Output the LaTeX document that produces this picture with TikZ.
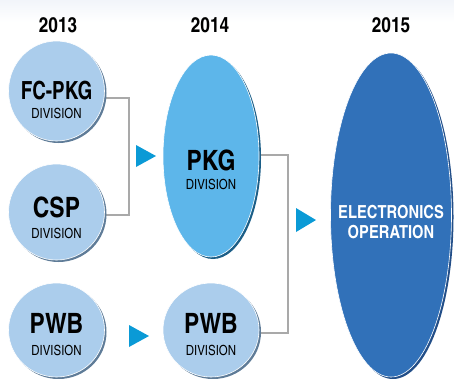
\documentclass[tikz,border=0pt]{standalone}
\usepackage{fontspec}
\IfFontExistsTF{texgyreheroscn-bold.otf}{%
  \newfontfamily\cnfont{texgyreheroscn}[Extension=.otf,UprightFont=*-regular,BoldFont=*-bold]%
  \newfontfamily\cnnarrow{texgyreheroscn}[Extension=.otf,UprightFont=*-regular,BoldFont=*-bold,FakeStretch=0.92]%
}{%
  \newfontfamily\cnfont{TeX Gyre Heros}[FakeStretch=0.82]%
  \newfontfamily\cnnarrow{TeX Gyre Heros}[FakeStretch=0.75]%
}
\usetikzlibrary{shapes.geometric,shadows,backgrounds}
\definecolor{lightc}{HTML}{ABCDEC}
\definecolor{lightsh}{HTML}{5F7C98}
\definecolor{midc}{HTML}{5DB6EA}
\definecolor{midsh}{HTML}{1B5E87}
\definecolor{darkc}{HTML}{3171B9}
\definecolor{darksh}{HTML}{224E88}
\definecolor{tric}{HTML}{0A9AD6}
\definecolor{connc}{HTML}{A9A9A9}
\definecolor{topbg}{HTML}{F2F5FA}
\tikzset{
  blob/.style={ellipse, inner sep=0pt, draw=white, line width=0.6pt,
    drop shadow={shadow xshift=2pt, shadow yshift=-2pt, opacity=1, fill=#1}},
  lightblob/.style={blob=lightsh, fill=lightc, minimum width=96pt},
  bigtxt/.style={anchor=base, inner sep=0pt, font=\cnfont\bfseries\fontsize{28}{30}\selectfont},
  fctxt/.style={anchor=base, inner sep=0pt, font=\cnnarrow\bfseries\fontsize{25}{30}\selectfont},
  smalltxt/.style={anchor=base, inner sep=0pt, font=\cnfont\fontsize{14}{16}\selectfont},
  yeartxt/.style={anchor=base, inner sep=0pt, font=\cnfont\bfseries\fontsize{21}{24}\selectfont},
  electxt/.style={anchor=base, inner sep=0pt, text=white, font=\cnfont\bfseries\fontsize{18}{20}\selectfont},
  conn/.style={draw=connc, line width=2pt},
  tri/.style={fill=tric},
}
\begin{document}
\begin{tikzpicture}[x=1pt,y=-1pt]
\useasboundingbox (0,0) rectangle (454,378);
\shade[top color=topbg, bottom color=white] (0,0) rectangle (454,22);
% years
\node[yeartxt] (y13) at (58,32) {2013};
\node[yeartxt] (y14) at (210,32) {2014};
\node[yeartxt] (y15) at (391,32) {2015};
% shapes
\node[lightblob, minimum height=100pt] (fc) at (56.5,91) {};
\node[lightblob, minimum height=96pt] (csp) at (56.5,212) {};
\node[lightblob, minimum height=94pt] (pwba) at (56.5,330) {};
\node[lightblob, minimum height=94pt] (pwbb) at (211,330) {};
\node[blob=midsh, fill=midc, minimum width=96pt, minimum height=202pt] (pkg) at (211,156) {};
\node[blob=darksh, fill=darkc, minimum width=121pt, minimum height=324pt] (elec) at (391,215) {};
% texts
\node[fctxt] (fct) at (56.5,99) {FC-PKG};
\node[smalltxt] (fcd) at (56.5,118) {DIVISION};
\node[bigtxt] (cspt) at (56.5,217) {CSP};
\node[smalltxt] (cspd) at (56.5,238) {DIVISION};
\node[bigtxt] (pwbat) at (56.5,333) {PWB};
\node[smalltxt] (pwbad) at (56.5,355) {DIVISION};
\node[bigtxt] (pwbbt) at (211,333) {PWB};
\node[smalltxt] (pwbbd) at (211,355) {DIVISION};
\node[bigtxt] (pkgt) at (211,170) {PKG};
\node[smalltxt] (pkgd) at (211,189) {DIVISION};
\node[electxt] (elt) at (391,218) {ELECTRONICS};
\node[electxt] (elo) at (391,238) {OPERATION};
% connectors
\coordinate (j1) at (129,98);
\coordinate (j2) at (129,215);
\coordinate (j3) at (288,155);
\coordinate (j4) at (288,333);
\begin{pgfonlayer}{background}
\draw[conn] (fc.center |- j1) -- (j1) -- (j2) -- (csp.center |- j2);
\draw[conn] (pkg.center |- j3) -- (j3) -- (j4) -- (pwbb.center |- j4);
\end{pgfonlayer}
% triangles
\fill[tri, shift={(146,156)}] (-10,-11) -- (10,0) -- (-10,11) -- cycle;
\fill[tri, shift={(306,220)}] (-10,-12) -- (10,0) -- (-10,12) -- cycle;
\fill[tri, shift={(139,336)}] (-10,-11) -- (10,0) -- (-10,11) -- cycle;
\end{tikzpicture}
\end{document}
